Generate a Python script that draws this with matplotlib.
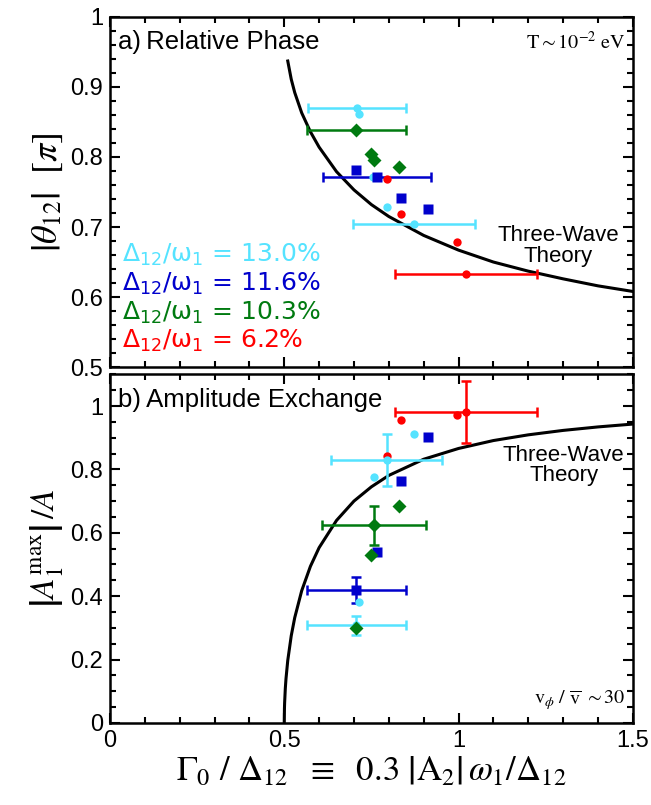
import matplotlib
matplotlib.use('Agg')
import matplotlib.pyplot as plt
from matplotlib.ticker import MultipleLocator

plt.rcParams['font.family'] = ['Liberation Sans', 'DejaVu Sans']
plt.rcParams['mathtext.fontset'] = 'stix'

CYAN = '#55e3ff'
BLUE = '#0000cc'
GREEN = '#007a10'
RED = '#ff0000'

# three-wave theory
theory_x_top = [0.51, 0.52, 0.53, 0.55, 0.575, 0.6, 0.65, 0.7, 0.75, 0.8, 0.9,
                1.0, 1.1, 1.2, 1.3, 1.4, 1.5]
theory_y_top = [0.937, 0.911, 0.892, 0.863, 0.836, 0.814, 0.779, 0.753, 0.732,
                0.715, 0.688, 0.667, 0.650, 0.637, 0.626, 0.616, 0.608]
theory_x_bot = [0.5, 0.5005, 0.501, 0.503, 0.505, 0.51, 0.52, 0.53, 0.55, 0.575,
                0.6, 0.65, 0.7, 0.75, 0.8, 0.9, 1.0, 1.1, 1.2, 1.3, 1.4, 1.5]
theory_y_bot = [0.0, 0.045, 0.063, 0.109, 0.140, 0.197, 0.275, 0.332, 0.417, 0.494,
                0.553, 0.639, 0.700, 0.745, 0.781, 0.832, 0.866, 0.891, 0.909,
                0.923, 0.934, 0.943]

# a) relative phase
top_cyan_x = [0.708, 0.713, 0.755, 0.795, 0.872]
top_cyan_y = [0.870, 0.861, 0.772, 0.729, 0.705]
top_cyan_ex = [0.708, 0.872]
top_cyan_ey = [0.870, 0.705]
top_cyan_xerr = [0.140, 0.175]

top_green_x = [0.706, 0.749, 0.758, 0.828]
top_green_y = [0.839, 0.804, 0.795, 0.785]
top_green_ex = [0.706]
top_green_ey = [0.839]
top_green_xerr = [0.142]

top_blue_x = [0.706, 0.766, 0.835, 0.913]
top_blue_y = [0.782, 0.772, 0.742, 0.726]
top_blue_ex = [0.766]
top_blue_ey = [0.772]
top_blue_xerr = [0.154]

top_red_x = [0.794, 0.835, 0.997, 1.021]
top_red_y = [0.769, 0.719, 0.679, 0.633]
top_red_ex = [1.021]
top_red_ey = [0.633]
top_red_xerr = [0.204]

# b) amplitude exchange
bot_red_x = [0.794, 0.834, 0.996, 1.021]
bot_red_y = [0.843, 0.955, 0.971, 0.981]
bot_red_ex = [1.021]
bot_red_ey = [0.981]
bot_red_xerr = [0.204]
bot_red_yerr = [0.098]

bot_cyan_x = [0.707, 0.714, 0.757, 0.794, 0.872]
bot_cyan_y = [0.308, 0.383, 0.777, 0.830, 0.913]
bot_cyan_ex = [0.707, 0.794]
bot_cyan_ey = [0.308, 0.830]
bot_cyan_xerr = [0.141, 0.160]
bot_cyan_yerr = [0.030, 0.083]

bot_blue_x = [0.707, 0.767, 0.835, 0.913]
bot_blue_y = [0.419, 0.538, 0.763, 0.901]
bot_blue_ex = [0.707]
bot_blue_ey = [0.419]
bot_blue_xerr = [0.143]
bot_blue_yerr = [0.041]

bot_green_x = [0.706, 0.748, 0.757, 0.828]
bot_green_y = [0.298, 0.530, 0.624, 0.683]
bot_green_ex = [0.757]
bot_green_ey = [0.624]
bot_green_xerr = [0.150]
bot_green_yerr = [0.062]

legend_labels = ['13.0%', '11.6%', '10.3%', '6.2%']
legend_colors = [CYAN, BLUE, GREEN, RED]

xticks = [0, 0.5, 1, 1.5]
xtick_labels = ['0', '0.5', '1', '1.5']
top_yticks = [0.5, 0.6, 0.7, 0.8, 0.9, 1.0]
top_ytick_labels = ['0.5', '0.6', '0.7', '0.8', '0.9', '1']
bot_yticks = [0, 0.2, 0.4, 0.6, 0.8, 1.0]
bot_ytick_labels = ['0', '0.2', '0.4', '0.6', '0.8', '1']

fig = plt.figure(figsize=(6.51, 8.05), dpi=100)
ax1 = fig.add_axes([0.169, 0.544, 0.803, 0.435])
ax2 = fig.add_axes([0.169, 0.102, 0.803, 0.433])

ms = dict(circle=6, square=6.5, diamond=7)


def style(ax):
    for s in ax.spines.values():
        s.set_linewidth(1.8)
    ax.tick_params(which='both', direction='in', top=True, right=True,
                   width=1.5, labelsize=17, pad=5)
    ax.tick_params(which='major', length=7)
    ax.tick_params(which='minor', length=4)
    ax.xaxis.set_minor_locator(MultipleLocator(0.1))
    ax.set_xlim(0, 1.5)
    ax.set_xticks(xticks)


def errs(ax, x, y, c, xerr, yerr=None):
    ax.errorbar(x, y, xerr=xerr, yerr=yerr, fmt='none', ecolor=c,
                elinewidth=1.8, capsize=3.5, capthick=1.8)


# top panel
ax1.plot(theory_x_top, theory_y_top, color='black', lw=2.2)
errs(ax1, top_cyan_ex, top_cyan_ey, CYAN, top_cyan_xerr)
errs(ax1, top_green_ex, top_green_ey, GREEN, top_green_xerr)
errs(ax1, top_blue_ex, top_blue_ey, BLUE, top_blue_xerr)
errs(ax1, top_red_ex, top_red_ey, RED, top_red_xerr)
ax1.plot(top_cyan_x, top_cyan_y, 'o', color=CYAN, ms=ms['circle'], mec='none')
ax1.plot(top_green_x, top_green_y, 'D', color=GREEN, ms=ms['diamond'], mec='none')
ax1.plot(top_blue_x, top_blue_y, 's', color=BLUE, ms=ms['square'], mec='none')
ax1.plot(top_red_x, top_red_y, 'o', color=RED, ms=ms['circle'], mec='none')

style(ax1)
ax1.set_ylim(0.5, 1.0)
ax1.set_yticks(top_yticks)
ax1.set_yticklabels(top_ytick_labels)
ax1.yaxis.set_minor_locator(MultipleLocator(0.02))
ax1.tick_params(axis='x', labelbottom=False)
ax1.set_ylabel(r'$\left|\theta_{12}\right|\ \ \left[\pi\right]$', fontsize=26, labelpad=4)

ax1.text(0.015, 0.929, 'a)\u2009Relative Phase', transform=ax1.transAxes,
         fontsize=18.5, va='center', ha='left')
ax1.text(0.987, 0.929, r'$\mathrm{T \sim 10^{-2}\ eV}$', transform=ax1.transAxes,
         fontsize=14.5, va='center', ha='right')
ax1.text(0.857, 0.346, 'Three-Wave\nTheory', transform=ax1.transAxes,
         fontsize=16, ha='center', va='center', linespacing=0.95)

legend_y = [0.300, 0.218, 0.136, 0.054]
for lab, c, yy in zip(legend_labels, legend_colors, legend_y):
    ax1.text(0.023, yy, r'$\mathrm{\Delta_{12}/\omega_1}$ = ' + lab,
             transform=ax1.transAxes, color=c, fontsize=18, va='baseline',
             ha='left', family='DejaVu Sans', math_fontfamily='dejavusans')

# bottom panel
ax2.plot(theory_x_bot, theory_y_bot, color='black', lw=2.2)
errs(ax2, bot_red_ex, bot_red_ey, RED, bot_red_xerr, bot_red_yerr)
errs(ax2, bot_cyan_ex, bot_cyan_ey, CYAN, bot_cyan_xerr, bot_cyan_yerr)
errs(ax2, bot_blue_ex, bot_blue_ey, BLUE, bot_blue_xerr, bot_blue_yerr)
errs(ax2, bot_green_ex, bot_green_ey, GREEN, bot_green_xerr, bot_green_yerr)
ax2.plot(bot_red_x, bot_red_y, 'o', color=RED, ms=ms['circle'], mec='none')
ax2.plot(bot_cyan_x, bot_cyan_y, 'o', color=CYAN, ms=ms['circle'], mec='none')
ax2.plot(bot_blue_x, bot_blue_y, 's', color=BLUE, ms=ms['square'], mec='none')
ax2.plot(bot_green_x, bot_green_y, 'D', color=GREEN, ms=ms['diamond'], mec='none')

style(ax2)
ax2.set_ylim(0, 1.1)
ax2.set_yticks(bot_yticks)
ax2.set_yticklabels(bot_ytick_labels)
ax2.yaxis.set_minor_locator(MultipleLocator(0.05))
ax2.set_xticklabels(xtick_labels)
ax2.set_ylabel(r'$\left|A_1^{\mathrm{max}}\right|\,/A$', fontsize=24, labelpad=4)
ax2.set_xlabel(r'$\Gamma_0\ /\ \Delta_{12}\ \ \equiv\ \ 0.3\ \left|\mathrm{A}_2\right|\,\omega_1/\Delta_{12}$',
               fontsize=25, labelpad=2)

ax2.text(0.015, 0.925, 'b)\u2009Amplitude Exchange', transform=ax2.transAxes,
         fontsize=18.5, va='center', ha='left')
ax2.text(0.987, 0.065, r'$\mathrm{v}_\phi\ /\ \overline{\mathrm{v}}\ \sim 30$',
         transform=ax2.transAxes, fontsize=14.5, va='center', ha='right')
ax2.text(0.868, 0.738, 'Three-Wave\nTheory', transform=ax2.transAxes,
         fontsize=16, ha='center', va='center', linespacing=0.95)

fig.savefig('out.png', dpi=100)
